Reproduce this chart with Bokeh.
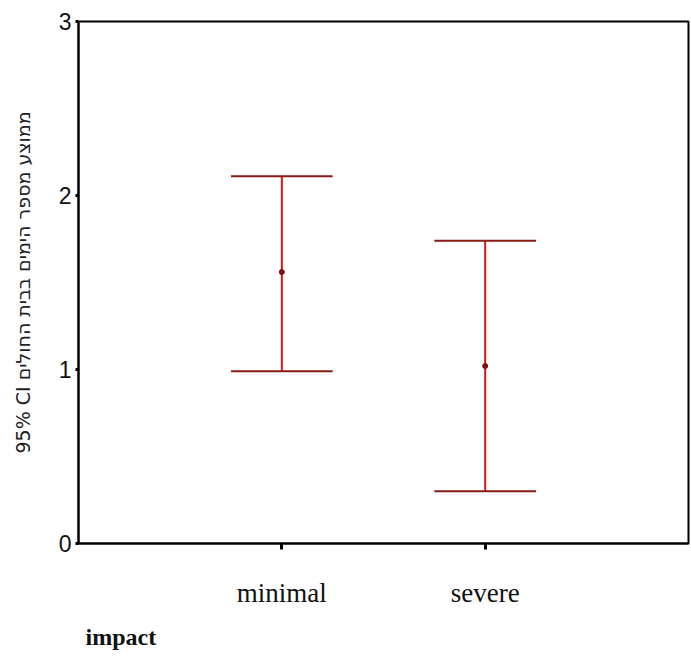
from bokeh.plotting import figure
from bokeh.models import Range1d, FixedTicker, Title
from bokeh.embed import file_html
from bokeh.resources import INLINE

categories = ["minimal", "severe"]
means = [1.56, 1.02]
upper = [2.11, 1.74]
lower = [0.99, 0.30]
y_ticks = [0, 1, 2, 3]
x_title = "impact"
y_title = "95% CI ממוצע מספר הימים בבית החולים"

xs = [i + 1 for i in range(len(categories))]
cap = 0.25

p = figure(width=690, height=660, output_backend="svg", toolbar_location=None,
           x_range=Range1d(0, 3), y_range=Range1d(0, 3),
           min_border_left=78, min_border_right=2, min_border_top=21, min_border_bottom=0)
p.background_fill_color = "white"
p.border_fill_color = "white"
p.outline_line_color = "black"
p.outline_line_width = 2
p.grid.visible = False

p.segment(x0=xs, x1=xs, y0=lower, y1=upper, line_color="#d81818", line_width=2)
p.segment(x0=[x - cap for x in xs], x1=[x + cap for x in xs], y0=upper, y1=upper,
          line_color="#8a1a14", line_width=2)
p.segment(x0=[x - cap for x in xs], x1=[x + cap for x in xs], y0=lower, y1=lower,
          line_color="#8a1a14", line_width=2)
p.scatter(x=xs, y=means, size=5, color="#7a1010")

p.xaxis.ticker = FixedTicker(ticks=xs)
p.xaxis.major_label_overrides = {x: c for x, c in zip(xs, categories)}
p.xaxis.major_label_text_font = "Liberation Serif"
p.xaxis.major_label_text_font_size = "27px"
p.xaxis.major_label_text_color = "#111111"
p.xaxis.major_label_standoff = 28
p.xaxis.major_tick_out = 6
p.xaxis.major_tick_in = 0
p.xaxis.major_tick_line_width = 3
p.xaxis.minor_tick_line_color = None
p.xaxis.axis_line_width = 2

p.yaxis.ticker = FixedTicker(ticks=y_ticks)
p.yaxis.major_label_text_font = "Liberation Sans"
p.yaxis.major_label_text_font_size = "23px"
p.yaxis.major_label_text_color = "#111111"
p.yaxis.major_label_standoff = 4
p.yaxis.major_tick_out = 3
p.yaxis.major_tick_in = 0
p.yaxis.major_tick_line_width = 3
p.yaxis.minor_tick_line_color = None
p.yaxis.axis_line_width = 2
p.yaxis.axis_label = y_title
p.yaxis.axis_label_text_font = "DejaVu Sans"
p.yaxis.axis_label_text_font_style = "normal"
p.yaxis.axis_label_text_font_size = "19px"
p.yaxis.axis_label_text_color = "#222222"
p.yaxis.axis_label_standoff = 22

p.add_layout(Title(text=x_title, align="left", offset=7, standoff=22,
                   text_font="Liberation Serif", text_font_size="24px",
                   text_font_style="bold", text_color="#111111"), "below")

open("out.html", "w").write(file_html(p, INLINE))
